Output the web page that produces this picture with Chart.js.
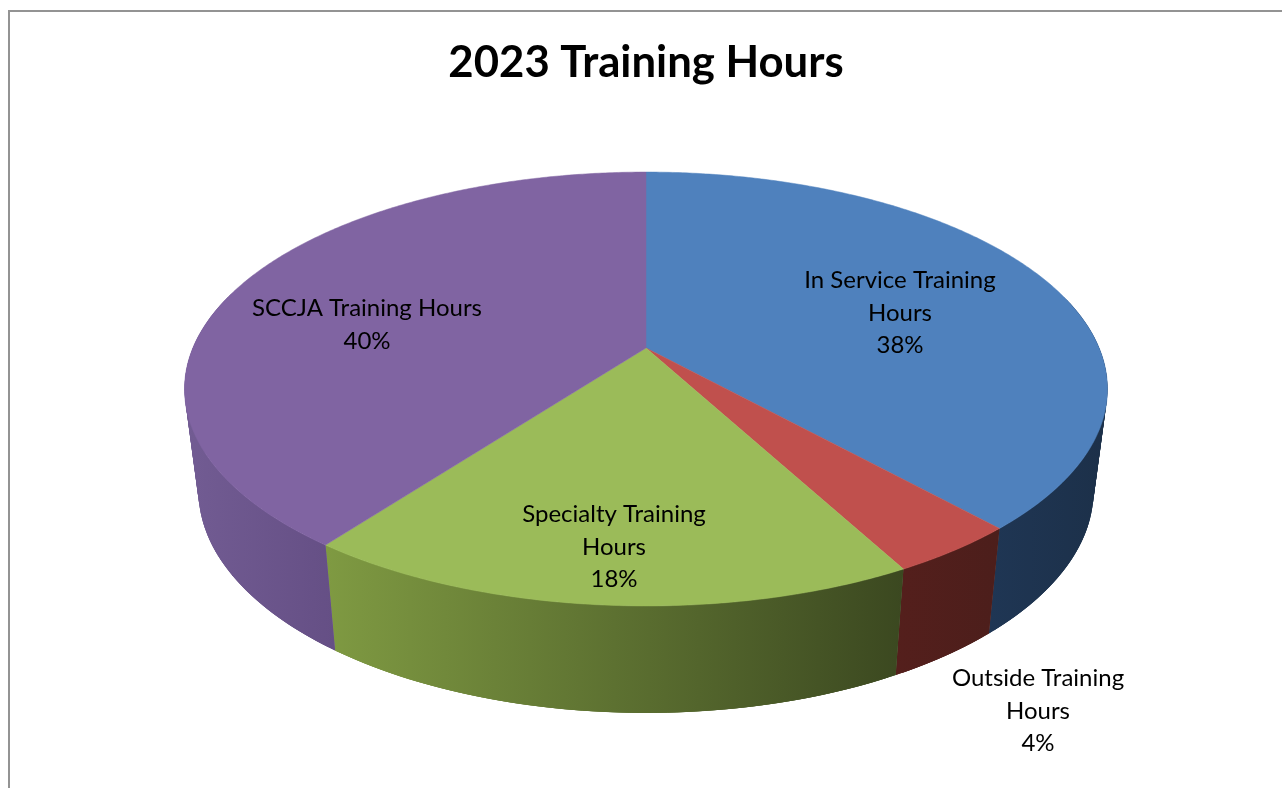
<!DOCTYPE html>
<html>
<head>
<meta charset="utf-8">
<title>2023 Training Hours</title>
<script src="https://cdn.jsdelivr.net/npm/chart.js@4"></script>
<style>
  html, body { margin: 0; padding: 0; background: #fff; overflow: hidden; }
  #wrap { position: relative; width: 1282px; height: 788px; }
  #frame { position: absolute; left: 8px; top: 10px; right: -4px; bottom: -4px; border: 2px solid #939393; }
  canvas { position: absolute; left: 0; top: 0; }
</style>
</head>
<body>
<div id="wrap">
  <div id="frame"></div>
  <canvas id="chart" width="1282" height="788"></canvas>
</div>
<script>
// ========================
// DATA
// ========================
const categories = ["In Service Training Hours", "Outside Training Hours", "Specialty Training Hours", "SCCJA Training Hours"];
const hours = [38.3, 3.85, 18.1, 39.75];

// ========================
// STYLE
// ========================
const topColors = ["#4f81bd", "#c0504d", "#9bbb59", "#8064a2"];
const wallColors = [
  ["#1f3654", "#1c3049"],
  ["#541f1c", "#4c1e1b"],
  ["#7f9a42", "#3b4820"],
  ["#725c93", "#654f85"]
];
const labelOffsets = [[254, -35], [392, 363], [-32, 199], [-279, -23]]; // from the pie apex, px

// pie is tilted: the flat circle is projected with some perspective
const RATIO_X = 1.904, RATIO_Y = 0.879, PERSPECTIVE = 0.189;
const BASE_SCALE_X = 0.97, BASE_SCALE_Y = 1.025, BASE_DROP = 0.4223;
const LABEL_FONT = "24px Lato", LABEL_LINE = 32.5, LABEL_MAX_WIDTH = 234;

function project(el, angle, scaleX, scaleY, drop) {
  const u = Math.cos(angle), v = Math.sin(angle);
  const w = 1 / (1 - PERSPECTIVE * v);
  return {
    x: el.x + el.outerRadius * RATIO_X * u * w * scaleX,
    y: el.y + drop + el.outerRadius * RATIO_Y * v * w * scaleY
  };
}

function wrapLabel(ctx, text) {
  const lines = [];
  let line = "";
  text.split(" ").forEach(word => {
    const next = line ? line + " " + word : word;
    if (ctx.measureText(next).width > LABEL_MAX_WIDTH) {
      lines.push(line);
      line = word;
    } else {
      line = next;
    }
  });
  lines.push(line);
  return lines;
}

function drawWall(ctx, el, i) {
  const step = Math.PI / 180;
  const drop = el.outerRadius * BASE_DROP;
  const quads = [];
  let minX = Infinity, maxX = -Infinity;
  for (let a = el.startAngle; a < el.endAngle; a += step) {
    if (Math.sin(a) < -0.25) continue;   // hidden behind the top face
    // each quad overlaps its neighbours so no seams show
    const a0 = Math.max(a - step, el.startAngle);
    const b0 = Math.min(a + 2 * step, el.endAngle);
    const p = [
      project(el, a0, 1, 1, 0), project(el, b0, 1, 1, 0),
      project(el, b0, BASE_SCALE_X, BASE_SCALE_Y, drop), project(el, a0, BASE_SCALE_X, BASE_SCALE_Y, drop)
    ];
    p.forEach(q => { minX = Math.min(minX, q.x); maxX = Math.max(maxX, q.x); });
    quads.push(p);
  }
  if (!quads.length) return;
  const grad = ctx.createLinearGradient(minX, 0, maxX, 0);
  grad.addColorStop(0, wallColors[i][0]);
  grad.addColorStop(1, wallColors[i][1]);
  ctx.fillStyle = grad;
  quads.forEach(p => {
    ctx.beginPath();
    ctx.moveTo(p[0].x, p[0].y);
    for (let k = 1; k < 4; k++) ctx.lineTo(p[k].x, p[k].y);
    ctx.closePath();
    ctx.fill();
  });
}

function drawTop(ctx, el, i) {
  ctx.beginPath();
  ctx.moveTo(el.x, el.y);
  const step = Math.PI / 360;
  for (let a = el.startAngle; a < el.endAngle; a += step) {
    const p = project(el, a, 1, 1, 0);
    ctx.lineTo(p.x, p.y);
  }
  const end = project(el, el.endAngle, 1, 1, 0);
  ctx.lineTo(end.x, end.y);
  ctx.closePath();
  ctx.fillStyle = topColors[i];
  ctx.strokeStyle = topColors[i];
  ctx.lineWidth = 0.5;
  ctx.fill();
  ctx.stroke();
}

const tiltedPie = {
  id: "tiltedPie",
  beforeDatasetsDraw(chart) {
    const ctx = chart.ctx;
    const arcs = chart.getDatasetMeta(0).data;
    ctx.save();
    arcs.forEach((el, i) => drawWall(ctx, el, i));
    arcs.forEach((el, i) => drawTop(ctx, el, i));

    // data labels: name + percent
    const total = hours.reduce((s, h) => s + h, 0);
    ctx.font = LABEL_FONT;
    ctx.fillStyle = "#000";
    ctx.textAlign = "center";
    ctx.textBaseline = "middle";
    arcs.forEach((el, i) => {
      const lines = wrapLabel(ctx, categories[i]);
      lines.push(Math.round(hours[i] / total * 100) + "%");
      const x = el.x + labelOffsets[i][0];
      const y = el.y + labelOffsets[i][1];
      lines.forEach((txt, k) => {
        ctx.fillText(txt, x, y + (k - (lines.length - 1) / 2) * LABEL_LINE);
      });
    });
    ctx.restore();
    return false;
  }
};

// ========================
// CHART
// ========================
new Chart(document.getElementById("chart"), {
  type: "pie",
  data: {
    labels: categories,
    datasets: [{ data: hours, backgroundColor: topColors, borderWidth: 0 }]
  },
  options: {
    responsive: false,
    animation: false,
    layout: { padding: { left: 10, right: 0, top: 0, bottom: 202 } },
    plugins: {
      legend: { display: false },
      tooltip: { enabled: false },
      title: {
        display: true,
        text: "2023 Training Hours",
        color: "#000",
        font: { family: "Lato", size: 43.7, weight: "bold", lineHeight: 1.2 },
        padding: { top: 37, bottom: 20.56 }
      }
    }
  },
  plugins: [tiltedPie]
});
</script>
</body>
</html>
